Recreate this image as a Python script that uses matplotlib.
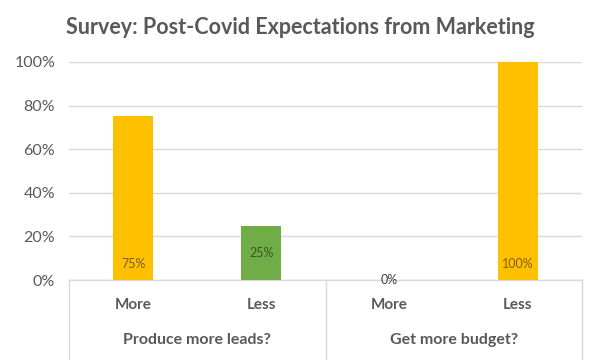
import matplotlib
matplotlib.use("Agg")
import matplotlib.pyplot as plt
from matplotlib.ticker import PercentFormatter

title = "Survey: Post-Covid Expectations from Marketing"
groups = ["Produce more leads?", "Get more budget?"]
answers = ["More", "Less", "More", "Less"]
values = [0.75, 0.25, 0.0, 1.0]
bar_colors = ["#FFC000", "#70AD47", "#FFC000", "#FFC000"]
label_colors = ["#7F6000", "#375623", "#404040", "#7F6000"]
label_offsets = [0.073, 0.124, 0.0, 0.073]
yticks = [0, 0.2, 0.4, 0.6, 0.8, 1.0]

plt.rcParams['font.family'] = ['Lato', 'DejaVu Sans']
fig = plt.figure(figsize=(6, 3.6), dpi=100)
ax = fig.add_axes([0.115, 0.2222, 0.855, 0.6056])

x = list(range(len(values)))
ax.bar(x, values, width=0.31, color=bar_colors, zorder=3)
for xi, v, c, off in zip(x, values, label_colors, label_offsets):
    ax.text(xi, v * 0 + off, f"{v:.0%}", ha="center", va="center",
            fontsize=9, color=c, zorder=4)

ax.set_xlim(-0.5, len(values) - 0.5)
ax.set_ylim(0, 1)
ax.set_yticks(yticks)
ax.yaxis.set_major_formatter(PercentFormatter(1.0, decimals=0))
ax.grid(axis="y", color="#D9D9D9", linewidth=1, zorder=0)
for s in ax.spines.values():
    s.set_visible(False)
ax.tick_params(axis="y", length=0, pad=10, labelsize=11.5, labelcolor="#595959")
ax.set_xticks(x)
ax.set_xticklabels(answers, fontsize=11, fontweight="bold", color="#595959")
ax.tick_params(axis="x", length=0, pad=13)

tr = ax.get_xaxis_transform()
ax.plot([-0.5, len(values) - 0.5], [0, 0], color="#D9D9D9", lw=1,
        transform=tr, clip_on=False, zorder=2)
for b in [-0.5, 1.5, 3.5]:
    ax.plot([b, b], [0, -0.37], color="#D9D9D9", lw=1, transform=tr, clip_on=False)
for i, g in enumerate(groups):
    ax.text(2 * i + 0.5, -0.275, g, transform=tr, ha="center", va="center",
            fontsize=11.5, fontweight="bold", color="#595959")

fig.text(0.5, 0.925, title, ha="center", va="center", fontsize=15.5,
         fontweight="bold", color="#595959")

fig.savefig("out.png", dpi=100)
